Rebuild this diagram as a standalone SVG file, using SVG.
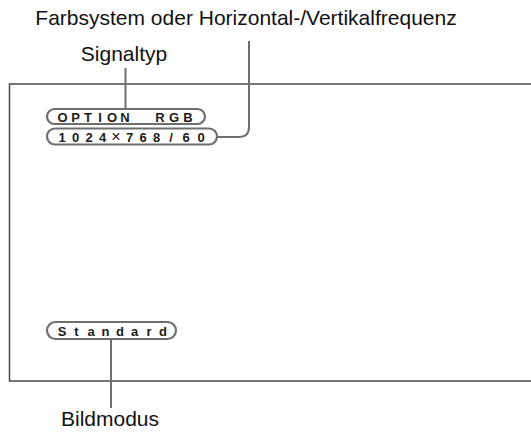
<svg xmlns="http://www.w3.org/2000/svg" width="531" height="433" viewBox="0 0 531 433">
<style>
.lbl{font-family:"Liberation Sans",Arial,sans-serif;font-size:21px;fill:#111;text-anchor:middle}
.osd{font-family:"Liberation Sans",Arial,sans-serif;font-size:13px;font-weight:bold;fill:#1a1a1a;text-anchor:middle}
.x{font-weight:normal;font-size:16px}
.pill{fill:#fff;stroke:#6e6e6e;stroke-width:2.2}
.conn{fill:none;stroke:#6e6e6e;stroke-width:2}
.frame{fill:none;stroke:#4a4a4a;stroke-width:1.5}
</style>
<rect width="531" height="433" fill="#fff"/>
<path class="frame" d="M531,84 H9.5 V381 H531"/>
<g id="connectors">
<path class="conn" d="M125.5,68 V109"/>
<path class="conn" d="M249,41 V127 Q249,137 239,137 H217"/>
<path class="conn" d="M111,339 V408"/>
</g>
<g id="label-farbsystem"><text class="lbl" x="246" y="25">Farbsystem oder Horizontal-/Vertikalfrequenz</text></g>
<g id="label-signaltyp"><text class="lbl" x="124" y="61">Signaltyp</text></g>
<g id="label-bildmodus"><text class="lbl" x="110" y="426">Bildmodus</text></g>
<g id="pill-signal">
<rect class="pill" x="47" y="109" width="158" height="15" rx="7.5"/>
<text class="osd" y="121.5" x="62.5 75.5 88 100 112 125 160 174 188">OPTIONRGB</text>
</g>
<g id="pill-freq">
<rect class="pill" x="47" y="128.5" width="170" height="16" rx="8"/>
<text class="osd" y="141.5"><tspan x="62 75.5 89 102.5">1024</tspan><tspan class="x" x="116">×</tspan><tspan x="129.5 143 156.5 171 186 201">768/60</tspan></text>
</g>
<g id="pill-mode">
<rect class="pill" x="47" y="322" width="129" height="17" rx="8.5"/>
<text class="osd" y="335.5" x="62 76.5 91 105.5 120 134.5 149 163">Standard</text>
</g>
</svg>
